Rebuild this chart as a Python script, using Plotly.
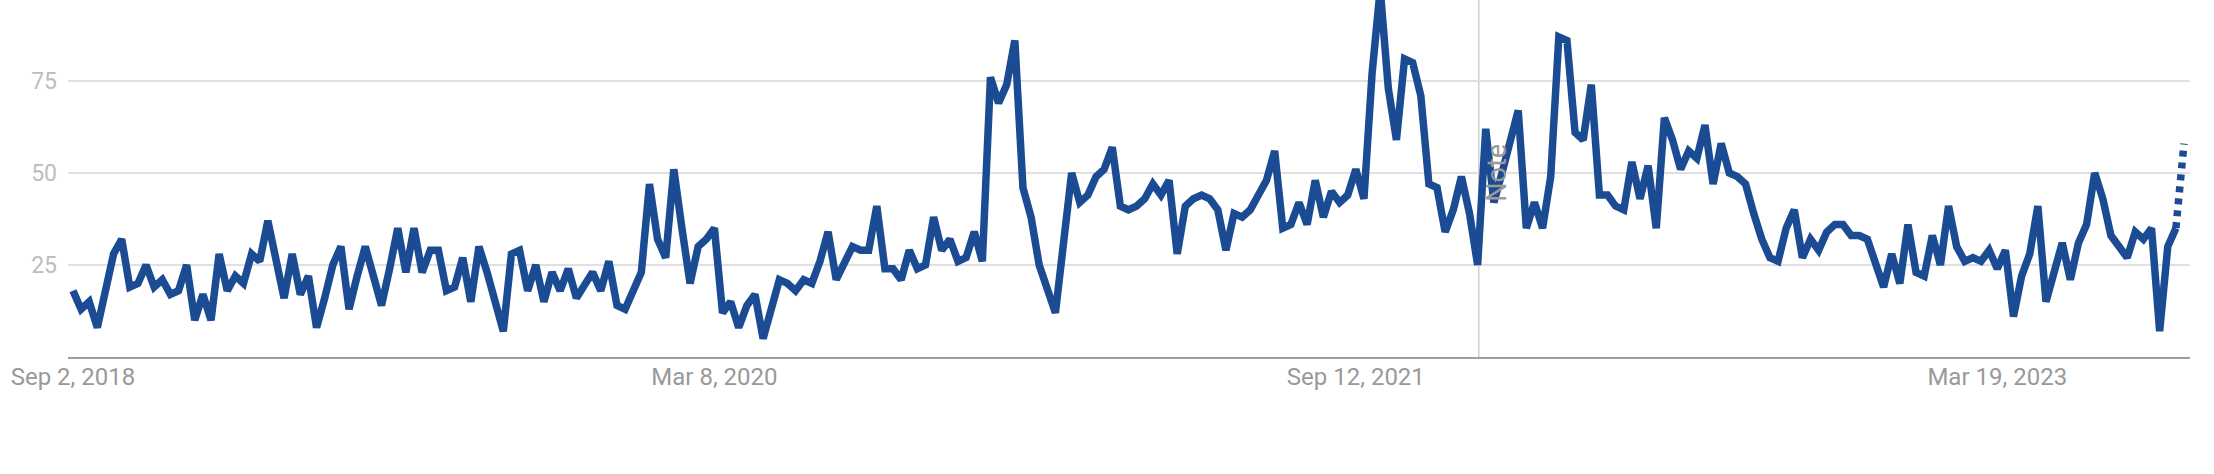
import pandas as pd
import plotly.graph_objects as go

# Weekly interest values (Google-Trends style), Sep 2, 2018 .. Aug 27, 2023
start_date = "2018-09-02"
values = [
    18, 13, 15, 8, 18, 28, 32, 19, 20, 25,
    19, 21, 17, 18, 25, 10, 17, 10, 28, 18,
    22, 20, 28, 26, 37, 26, 16, 28, 17, 22,
    8, 16, 25, 30, 13, 22, 30, 22, 14, 24,
    35, 23, 35, 23, 29, 29, 18, 19, 27, 15,
    30, 23, 14, 7, 28, 29, 18, 25, 15, 23,
    18, 24, 16, 20, 23, 18, 26, 14, 13, 18,
    23, 47, 32, 27, 51, 35, 20, 30, 32, 35,
    12, 15, 8, 14, 17, 5, 13, 21, 20, 18,
    21, 20, 26, 34, 21, 25, 30, 29, 29, 41,
    24, 24, 21, 29, 24, 25, 38, 29, 32, 26,
    27, 34, 26, 76, 69, 74, 86, 46, 38, 25,
    19, 12, 31, 50, 42, 44, 49, 51, 57, 41,
    40, 41, 43, 47, 44, 48, 28, 41, 43, 44,
    43, 40, 29, 39, 38, 40, 44, 48, 56, 35,
    36, 42, 36, 48, 38, 45, 42, 44, 51, 43,
    77, 100, 73, 59, 81, 80, 71, 47, 46, 34,
    40, 49, 39, 25, 62, 42, 50, 58, 67, 35,
    42, 35, 49, 87, 86, 61, 59, 74, 44, 44,
    41, 40, 53, 43, 52, 35, 65, 59, 51, 56,
    54, 63, 47, 58, 50, 49, 47, 39, 32, 27,
    26, 35, 40, 27, 32, 29, 34, 36, 36, 33,
    33, 32, 25, 19, 28, 20, 36, 23, 22, 33,
    25, 41, 30, 26, 27, 26, 29, 24, 29, 11,
    22, 28, 41, 15, 23, 31, 21, 31, 36, 50,
    43, 33, 30, 27, 34, 32, 35, 7, 30, 35,
    58,
]
dates = pd.date_range(start_date, periods=len(values), freq="7D")

tick_dates = ["2018-09-02", "2020-03-08", "2021-09-12", "2023-03-19"]
tick_labels = ["Sep 2, 2018", "Mar 8, 2020", "Sep 12, 2021", "Mar 19, 2023"]
y_ticks = [25, 50, 75]
note_date = "2021-12-27"
note_text = "Note"

line_color = "#1b4c93"

fig = go.Figure()
# solid (complete weeks)
fig.add_trace(go.Scatter(
    x=dates[:-1], y=values[:-1], mode="lines",
    line=dict(color=line_color, width=7.5, shape="linear"),
    hoverinfo="x+y", showlegend=False,
))
# dotted (partial last week)
fig.add_trace(go.Scatter(
    x=dates[-2:], y=values[-2:], mode="lines",
    line=dict(color=line_color, width=7.5, dash="6px,6px"),
    hoverinfo="x+y", showlegend=False,
))

x0 = pd.Timestamp(dates[0]) - pd.Timedelta(hours=103)
x1 = pd.Timestamp(dates[-1]) + pd.Timedelta(hours=124)

fig.add_shape(type="line", xref="x", yref="paper",
              x0=note_date, x1=note_date, y0=0, y1=1,
              line=dict(color="#cfcfcf", width=1.5), layer="below")
fig.add_annotation(x=note_date, y=50, xref="x", yref="y", text=note_text,
                   textangle=-90, showarrow=False, xshift=18,
                   font=dict(family="Roboto", size=27, color="#9a9a9a"))

fig.update_layout(
    width=2214, height=474,
    margin=dict(l=68, r=24, t=0, b=117, autoexpand=False),
    paper_bgcolor="white", plot_bgcolor="white",
    font=dict(family="Roboto", size=23, color="#9a9a9a"),
    xaxis=dict(
        type="date", range=[x0, x1], automargin=False,
        tickmode="array", tickvals=tick_dates, ticktext=tick_labels,
        showgrid=False, zeroline=False, ticks="",
        showline=True, linecolor="#9e9e9e", linewidth=2,
        tickfont=dict(family="Roboto", size=24, color="#999999"),
        ticklabelstandoff=-3,
    ),
    yaxis=dict(
        range=[0, 97], tickmode="array", tickvals=y_ticks, automargin=False,
        showgrid=True, gridcolor="#e0e0e0", gridwidth=1.5,
        zeroline=False, ticks="", showline=False,
        tickfont=dict(family="Roboto", size=23, color="#bdbdbd"),
        ticklabelstandoff=10,
    ),
)

fig.write_html("out.html", config={"displayModeBar": False},
               post_script="document.body.style.margin='0';document.body.style.overflow='hidden';")
